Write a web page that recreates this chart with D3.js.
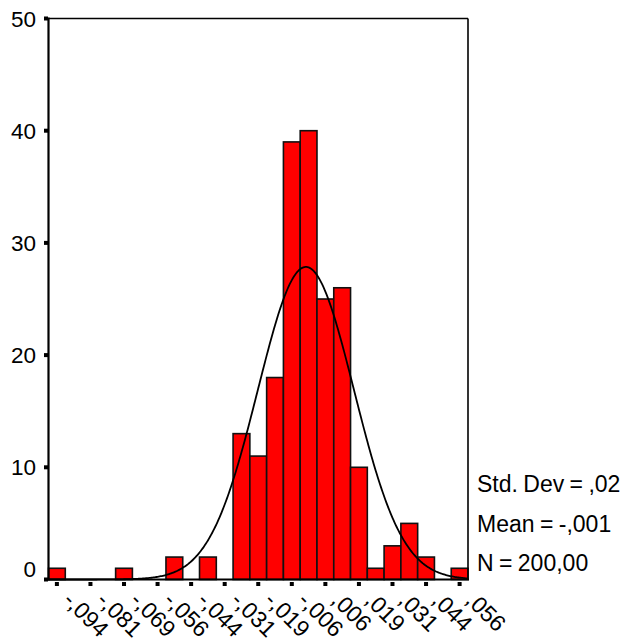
<!DOCTYPE html>
<html>
<head>
<meta charset="utf-8">
<script src="https://cdn.jsdelivr.net/npm/d3@7"></script>
<style>
  html, body { margin: 0; padding: 0; background: #fff; }
  svg { display: block; }
  text { font-family: "Liberation Sans", Arial, sans-serif; fill: #000; }
</style>
</head>
<body>
<svg id="chart" width="625" height="642"></svg>
<script>
// ---- data ----
const binStart = -0.096875;
const binWidth = 0.00625;
const binCounts = [1, 0, 0, 0, 1, 0, 0, 2, 0, 2, 0, 13, 11, 18, 39, 40, 25, 26, 10, 1, 3, 5, 2, 0, 1];
const xTickValues = [-0.09375, -0.08125, -0.06875, -0.05625, -0.04375, -0.03125, -0.01875, -0.00625, 0.00625, 0.01875, 0.03125, 0.04375, 0.05625];
const xTickLabels = ["-,094", "-,081", "-,069", "-,056", "-,044", "-,031", "-,019", "-,006", ",006", ",019", ",031", ",044", ",056"];
const yTickValues = [0, 10, 20, 30, 40, 50];
const statsLines = ["Std. Dev = ,02", "Mean = -,001", "N = 200,00"];
const fitMean = -0.001;
const fitSd = 0.0179;
const nTotal = 200;

// ---- layout ----
const svg = d3.select("#chart");
const pL = 48.5, pR = 468, pT = 18.5, pB = 579.5;

const x = d3.scaleLinear().domain([binStart, binStart + binWidth * binCounts.length]).range([pL, pR]);
const y = d3.scaleLinear().domain([0, 50]).range([pB, pT]);

const bins = binCounts.map((c, i) => ({ x0: binStart + i * binWidth, x1: binStart + (i + 1) * binWidth, count: c }));

// bars
svg.append("g").selectAll("rect")
  .data(bins.filter(d => d.count > 0))
  .join("rect")
  .attr("x", d => x(d.x0))
  .attr("y", d => y(d.count))
  .attr("width", d => x(d.x1) - x(d.x0))
  .attr("height", d => y(0) - y(d.count))
  .attr("fill", "#ff0000")
  .attr("stroke", "#111")
  .attr("stroke-width", 1.6);

// normal curve
const curvePts = d3.range(0, 401).map(k => {
  const v = x.domain()[0] + (x.domain()[1] - x.domain()[0]) * k / 400;
  const dens = Math.exp(-0.5 * Math.pow((v - fitMean) / fitSd, 2)) / (fitSd * Math.sqrt(2 * Math.PI));
  return [v, dens * nTotal * binWidth];
});
svg.append("path")
  .datum(curvePts)
  .attr("fill", "none")
  .attr("stroke", "#000")
  .attr("stroke-width", 1.8)
  .attr("d", d3.line().x(d => x(d[0])).y(d => y(d[1])));

// frame: top and right
svg.append("line").attr("x1", pL).attr("x2", pR).attr("y1", pT).attr("y2", pT)
  .attr("stroke", "#000").attr("stroke-width", 1.6);
svg.append("line").attr("x1", pR).attr("x2", pR).attr("y1", pT).attr("y2", pB)
  .attr("stroke", "#000").attr("stroke-width", 1.6);
// axes lines
svg.append("line").attr("x1", pL).attr("x2", pL).attr("y1", pT - 1).attr("y2", pB + 1)
  .attr("stroke", "#000").attr("stroke-width", 2.2);
svg.append("line").attr("x1", pL - 1).attr("x2", pR + 1).attr("y1", pB).attr("y2", pB)
  .attr("stroke", "#000").attr("stroke-width", 2.2);

// y ticks
const yAxis = svg.append("g");
yAxis.selectAll("rect").data(yTickValues).join("rect")
  .attr("x", pL - 4.5).attr("y", d => y(d) - 2).attr("width", 4).attr("height", 4).attr("fill", "#000");
yAxis.selectAll("text").data(yTickValues).join("text")
  .attr("x", 36)
  .attr("y", d => y(d) + (d === 0 ? -3 : 8))
  .attr("text-anchor", "end")
  .attr("font-size", 22.5)
  .text(d => d);

// x ticks
const xAxis = svg.append("g");
xAxis.selectAll("rect").data(xTickValues).join("rect")
  .attr("x", d => x(d) - 2).attr("y", pB + 2.5).attr("width", 4).attr("height", 4).attr("fill", "#000");
xAxis.selectAll("text").data(xTickValues).join("text")
  .attr("transform", d => `translate(${x(d) + 5},${pB + 22}) rotate(45)`)
  .attr("text-anchor", "start")
  .attr("font-size", 23)
  .text((d, i) => xTickLabels[i]);

// stats text
svg.append("g").selectAll("text").data(statsLines).join("text")
  .attr("x", 477)
  .attr("y", (d, i) => 492 + i * 39.5)
  .attr("font-size", 23)
  .attr("word-spacing", -1)
  .text(d => d);
</script>
</body>
</html>
